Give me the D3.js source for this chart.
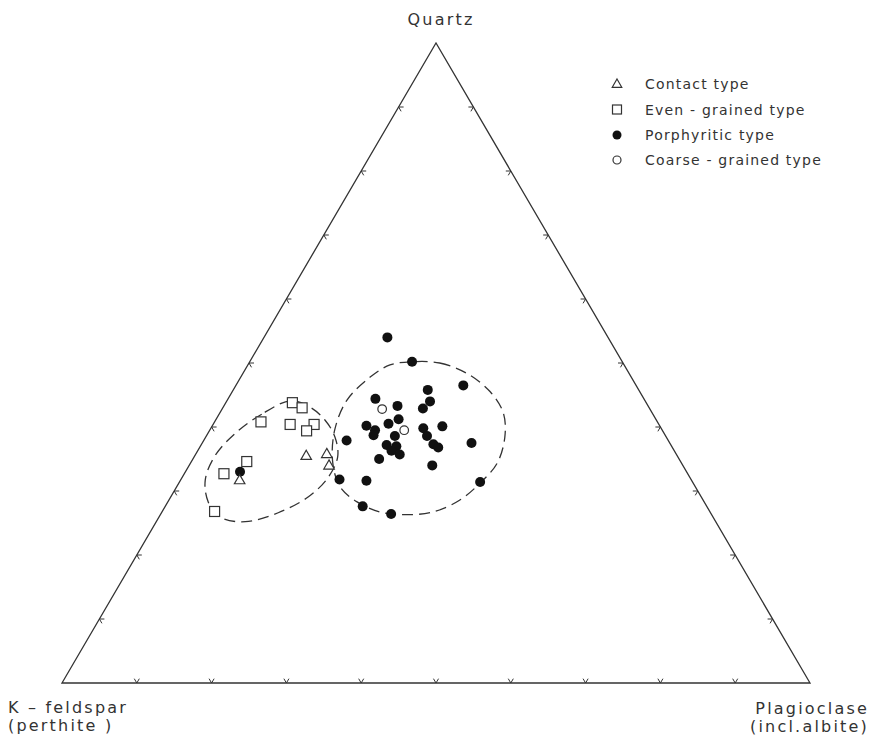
<!DOCTYPE html>
<html><head><meta charset="utf-8">
<script src="https://cdn.jsdelivr.net/npm/d3@7"></script>
<style>
body{margin:0;background:#fff}
svg{display:block}
text{font-family:"DejaVu Sans",sans-serif;fill:#333}
</style>
</head><body>
<svg id="chart" width="873" height="742"></svg>
<script>
// Ternary values in percent: quartz, K-feldspar, plagioclase
const contactQ = [35.5, 35.8, 34.0, 31.7];
const contactK = [49.6, 46.7, 47.3, 60.4];
const contactP = [14.9, 17.5, 18.7, 7.9];

const evenQ = [43.8, 43.0, 40.8, 40.4, 40.4, 39.4, 34.6, 32.7, 26.8];
const evenK = [47.3, 46.4, 53.0, 49.3, 46.1, 47.6, 58.0, 62.0, 66.2];
const evenP = [8.9, 10.6, 6.2, 10.3, 13.5, 13.0, 7.4, 5.3, 7.0];

const porphQ = [54.0, 50.2, 46.5, 45.8, 44.4, 44.0, 43.3, 42.9, 41.2, 40.5, 40.2, 39.5, 38.7, 39.8, 40.1, 38.6, 38.6,
                37.9, 37.2, 37.0, 36.3, 35.7, 37.3, 36.8, 37.5, 35.0, 34.0, 31.8, 31.6, 31.4, 27.6, 26.4, 33.0];
const porphK = [29.5, 28.1, 23.1, 28.2, 35.9, 28.8, 33.5, 30.3, 34.4, 36.1, 39.2, 38.4, 39.0, 31.8, 29.1, 31.9, 36.2,
                43.0, 38.0, 36.8, 37.8, 37.0, 31.7, 31.3, 26.5, 40.1, 33.5, 47.0, 43.5, 28.4, 46.0, 42.8, 59.7];
const porphP = [16.5, 21.7, 30.4, 26.0, 19.7, 27.2, 23.2, 26.8, 24.4, 23.4, 20.6, 22.1, 22.3, 28.4, 30.8, 29.5, 25.2,
                19.1, 24.8, 26.2, 25.9, 27.3, 31.0, 31.9, 36.0, 24.9, 32.5, 21.2, 24.9, 40.2, 26.4, 30.8, 7.3];

const coarseQ = [42.8, 39.5];
const coarseK = [35.8, 34.5];
const coarseP = [21.4, 26.0];

// Dashed field envelopes (quartz, plagioclase)
const fieldLeftQ = [44.1, 42.0, 39.1, 35.5, 31.7, 28.3, 25.9, 25.2, 26.6, 29.1, 32.0, 35.3, 38.4, 41.1, 43.1];
const fieldLeftP = [8.5, 5.7, 3.7, 2.7, 3.3, 5.4, 8.2, 11.9, 15.6, 18.4, 19.5, 19.2, 17.3, 14.6, 11.6];
const fieldRightQ = [50.2, 50.0, 48.4, 45.5, 42.2, 38.4, 34.4, 31.3, 28.6, 26.7, 26.3, 26.7, 28.3, 30.6, 34.4, 39.5, 44.2, 47.8, 49.7];
const fieldRightP = [21.7, 25.5, 29.9, 34.5, 37.9, 40.0, 41.0, 40.3, 38.9, 36.2, 32.5, 29.2, 25.3, 21.9, 19.0, 16.7, 16.0, 17.3, 19.0];

const tickValues = [10, 20, 30, 40, 50, 60, 70, 80, 90];

const legendLabels = ["Contact type", "Even - grained type", "Porphyritic type", "Coarse - grained type"];
const vertexLabels = {
  top: ["Quartz"],
  left: ["K \u2013 feldspar", "(perthite )"],
  right: ["Plagioclase", "(incl.albite)"]
};

const svg = d3.select("#chart");
const ink = "#333";

// scales: base axis (plagioclase + quartz/2) horizontally, quartz vertically
const xS = d3.scaleLinear().domain([0, 100]).range([62, 810]);
const yS = d3.scaleLinear().domain([0, 100]).range([683, 43]);
function proj(q, p) { return [xS(p + q / 2), yS(q)]; }

const K = proj(0, 0), P = proj(0, 100), Q = proj(100, 0);

// triangle
svg.append("path")
  .attr("d", d3.line()([K, P, Q, K]) + "Z")
  .attr("fill", "none").attr("stroke", ink).attr("stroke-width", 1.3)
  .attr("stroke-linejoin", "miter");

// ticks: each side A-B with opposite vertex C
function norm(v) { const l = Math.hypot(v[0], v[1]); return [v[0] / l, v[1] / l]; }
const sides = [
  { pt: v => proj(0, v), A: K, B: P, C: Q },     // base
  { pt: v => proj(v, 0), A: K, B: Q, C: P },     // left
  { pt: v => proj(v, 100 - v), A: P, B: Q, C: K } // right
];
const tl = 5;
sides.forEach(s => {
  const d1 = norm([s.C[0] - s.A[0], s.C[1] - s.A[1]]);
  const d2 = norm([s.C[0] - s.B[0], s.C[1] - s.B[1]]);
  tickValues.forEach(v => {
    const o = s.pt(v);
    svg.append("path")
      .attr("d", d3.line()([[o[0] + d1[0] * tl, o[1] + d1[1] * tl], o, [o[0] + d2[0] * tl, o[1] + d2[1] * tl]]))
      .attr("fill", "none").attr("stroke", ink).attr("stroke-width", 1);
  });
});

// envelopes
const envLine = d3.line().curve(d3.curveCatmullRomClosed.alpha(0.5));
function envelope(qs, ps) {
  svg.append("path")
    .attr("d", envLine(qs.map((q, i) => proj(q, ps[i]))))
    .attr("fill", "none").attr("stroke", ink).attr("stroke-width", 1.3)
    .attr("stroke-dasharray", "11,6");
}
envelope(fieldLeftQ, fieldLeftP);
envelope(fieldRightQ, fieldRightP);

// markers
function triPath(cx, cy, s) {
  const h = s * 0.87;
  return `M${cx},${cy - h * 0.6}L${cx + s / 2},${cy + h * 0.4}L${cx - s / 2},${cy + h * 0.4}Z`;
}
function drawSquare(g, c, s) {
  g.append("rect").attr("x", c[0] - s / 2).attr("y", c[1] - s / 2).attr("width", s).attr("height", s)
    .attr("fill", "#fff").attr("stroke", ink).attr("stroke-width", 1.2);
}
function drawTri(g, c, s) {
  g.append("path").attr("d", triPath(c[0], c[1], s))
    .attr("fill", "#fff").attr("stroke", ink).attr("stroke-width", 1.2);
}
function drawDot(g, c, r) {
  g.append("circle").attr("cx", c[0]).attr("cy", c[1]).attr("r", r).attr("fill", "#111");
}
function drawRing(g, c, r) {
  g.append("circle").attr("cx", c[0]).attr("cy", c[1]).attr("r", r)
    .attr("fill", "#fff").attr("stroke", ink).attr("stroke-width", 1.2);
}

const gPts = svg.append("g");
evenQ.forEach((q, i) => drawSquare(gPts, proj(q, evenP[i]), 10));
porphQ.forEach((q, i) => drawDot(gPts, proj(q, porphP[i]), 5));
contactQ.forEach((q, i) => drawTri(gPts, proj(q, contactP[i]), 10.5));
coarseQ.forEach((q, i) => drawRing(gPts, proj(q, coarseP[i]), 4.3));

// legend
const lg = svg.append("g");
const ly = [84, 109.5, 135, 160];
drawTri(lg, [617, ly[0]], 9.5);
drawSquare(lg, [617, ly[1]], 9);
drawDot(lg, [617, ly[2]], 4.5);
drawRing(lg, [617, ly[3]], 4);
legendLabels.forEach((t, i) => {
  lg.append("text").attr("x", 645).attr("y", ly[i]).attr("dy", "0.36em")
    .attr("font-size", 14).attr("letter-spacing", 1.2).text(t);
});

// vertex labels
svg.append("text").attr("x", 441).attr("y", 25).attr("text-anchor", "middle")
  .attr("font-size", 16).attr("letter-spacing", 2.2).text(vertexLabels.top[0]);
vertexLabels.left.forEach((t, i) => {
  svg.append("text").attr("x", 8).attr("y", 713 + i * 18)
    .attr("font-size", 16).attr("letter-spacing", 2.2).text(t);
});
vertexLabels.right.forEach((t, i) => {
  svg.append("text").attr("x", 869).attr("y", 714 + i * 18).attr("text-anchor", "end")
    .attr("font-size", 16).attr("letter-spacing", 2.2).text(t);
});
</script>
</body></html>
